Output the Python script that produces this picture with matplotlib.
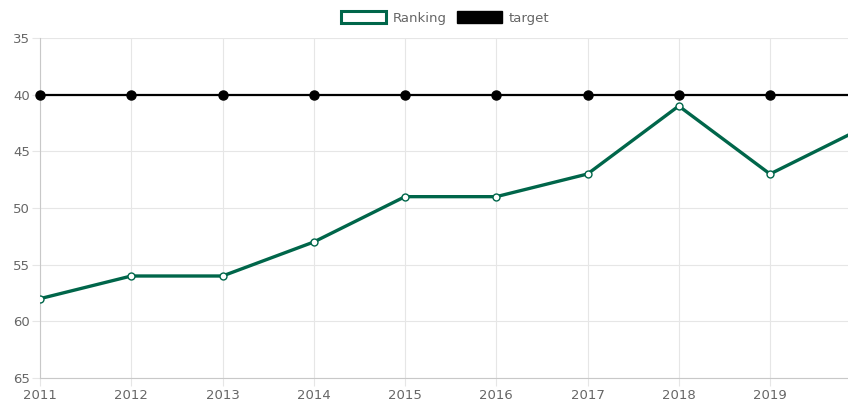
import matplotlib.pyplot as plt
from matplotlib.patches import Patch

years = [2011, 2012, 2013, 2014, 2015, 2016, 2017, 2018, 2019, 2020]
ranking = [58, 56, 56, 53, 49, 49, 47, 41, 47, 43]
target = [40, 40, 40, 40, 40, 40, 40, 40, 40, 40]

green = '#00664a'
grid_c = '#e6e6e6'
text_c = '#666666'

fig = plt.figure(figsize=(8.48, 4.08), dpi=100)
ax = fig.add_axes([40/848, 30/408, 808/848, 340/408])

ax.plot(years, ranking, color=green, linewidth=2.4, marker='o', markersize=5,
        markerfacecolor='white', markeredgecolor=green, markeredgewidth=1, zorder=3)
ax.plot(years, target, color='black', linewidth=1.6, marker='o', markersize=6.5,
        markerfacecolor='black', markeredgecolor='black', zorder=4, clip_on=False)

ax.set_xlim(2011, 2011 + 808/91.25)
ax.set_ylim(65, 35)
ax.set_yticks([35, 40, 45, 50, 55, 60, 65])
ax.set_xticks(years[:-1])
ax.set_xticklabels([str(y) for y in years[:-1]])

ax.grid(True, color=grid_c, linewidth=0.8)
ax.set_axisbelow(True)
for s in ['top', 'right']:
    ax.spines[s].set_visible(False)
for s in ['left', 'bottom']:
    ax.spines[s].set_color('#c8c8c8')
    ax.spines[s].set_linewidth(0.8)
ax.tick_params(axis='both', colors=grid_c, labelcolor=text_c, labelsize=9.5,
               length=6, width=0.8)
ax.tick_params(axis='y', pad=1)
ax.tick_params(axis='x', pad=2)

handles = [Patch(facecolor='white', edgecolor=green, linewidth=2.2, label='Ranking'),
           Patch(facecolor='black', edgecolor='black', label='target')]
leg = fig.legend(handles=handles, loc='center', bbox_to_anchor=(445/848, 1 - 18/408),
                 ncol=2, frameon=False, fontsize=9.5, handlelength=3.4, handleheight=1.0,
                 columnspacing=0.8, handletextpad=0.5)
for t in leg.get_texts():
    t.set_color(text_c)

fig.savefig('out.png', dpi=100)
